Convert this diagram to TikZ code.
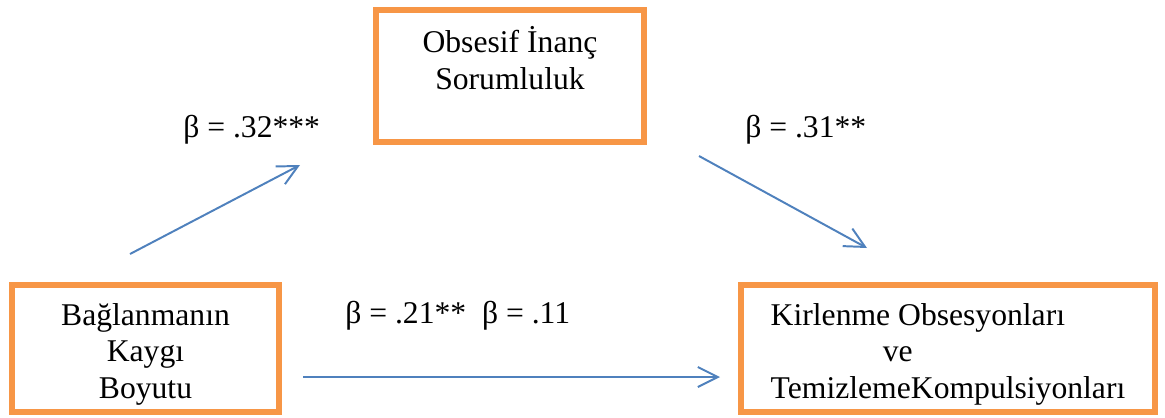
\documentclass[tikz,border=0pt]{standalone}
\usepackage{fontspec}
\setmainfont{Liberation Serif}
\usetikzlibrary{arrows.meta}
\definecolor{boxorange}{HTML}{F79646}
\definecolor{arrblue}{HTML}{4F81BD}

\begin{document}
\begin{tikzpicture}[
  x=0.025cm, y=-0.025cm,
  >={Straight Barb[length=5mm, width=5mm]},
  varbox/.style={
    draw=boxorange, line width=3.8pt, fill=white, inner sep=0pt,
    align=#1, font=\fontsize{22.5}{26}\selectfont
  },
  varbox/.default=center,
  arr/.style={->, line width=1.4pt, arrblue},
  coef/.style={anchor=base west, inner sep=0pt, font=\fontsize{22.5}{26}\selectfont},
]

% Frame
\useasboundingbox (0,0) rectangle (1165,417);

% =============================================
% Variables
% =============================================
\node[varbox, minimum width=6.675cm, minimum height=3.175cm]
  (attach) at (145.5,348.5)
  {\rule{0pt}{24pt}Bağlanmanın\\Kaygı\\Boyutu};

\node[varbox, minimum width=6.7cm, minimum height=3.3cm]
  (belief) at (510,76)
  {Obsesif İnanç\\Sorumluluk\\\mbox{}};

\node[varbox=left, minimum width=10.35cm, minimum height=3.175cm]
  (clean) at (948,348.5)
  {\rule{0pt}{24pt}Kirlenme Obsesyonları\\\hspace*{2.8cm}ve\\TemizlemeKompulsiyonları};

% =============================================
% Arrow ends
% =============================================
\coordinate (a-start) at (130,254);
\coordinate (a-end) at (300,165);
\coordinate (b-start) at (699,156);
\coordinate (b-end) at (867,248);
\coordinate (c-start) at (303,377);
\coordinate (c-end) at (720,377);

% =============================================
% Paths
% =============================================
\draw[arr] (a-start) -- (a-end);
\draw[arr] (b-start) -- (b-end);
\draw[arr] (c-start) -- (c-end);

% Coefficients
\node[coef] (coef-a) at (183,137) {β = .32***};
\node[coef] (coef-b) at (745,137) {β = .31**};
\node[coef] (coef-c) at (345,323) {β = .21**\ \ β = .11};

\end{tikzpicture}
\end{document}
